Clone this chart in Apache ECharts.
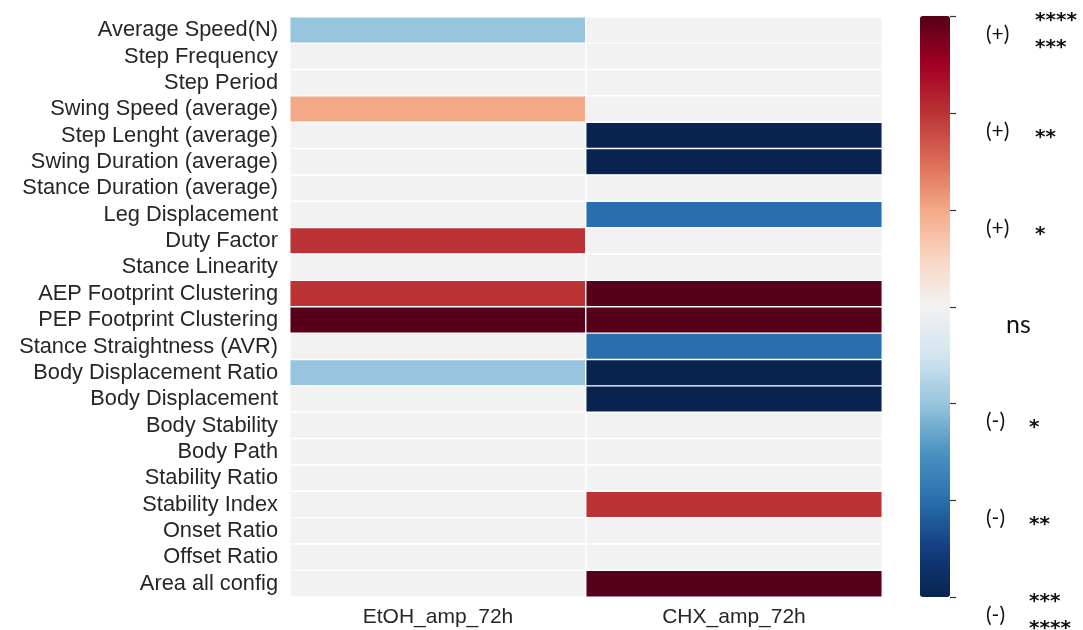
<!DOCTYPE html>
<html>
<head>
<meta charset="utf-8">
<script src="https://cdn.jsdelivr.net/npm/echarts@6/dist/echarts.min.js"></script>
<style>html,body{margin:0;padding:0;background:#fff;}#c{width:1083px;height:630px;}</style>
</head>
<body>
<div id="c"></div>
<script>
// ---- data ----
const features = [
  'Average Speed(N)', 'Step Frequency', 'Step Period', 'Swing Speed (average)',
  'Step Lenght (average)', 'Swing Duration (average)', 'Stance Duration (average)',
  'Leg Displacement', 'Duty Factor', 'Stance Linearity', 'AEP Footprint Clustering',
  'PEP Footprint Clustering', 'Stance Straightness (AVR)', 'Body Displacement Ratio',
  'Body Displacement', 'Body Stability', 'Body Path', 'Stability Ratio',
  'Stability Index', 'Onset Ratio', 'Offset Ratio', 'Area all config'
];
const conditions = ['EtOH_amp_72h', 'CHX_amp_72h'];
const etohValues = [-1, 0, 0, 1, 0, 0, 0, 0, 2, 0, 2, 3, 0, -1, 0, 0, 0, 0, 0, 0, 0, 0];
const chxValues  = [0, 0, 0, 0, -3, -3, 0, -2, 0, 0, 3, 3, -2, -3, -3, 0, 0, 0, 2, 0, 0, 3];
const scaleTicks = [3, 2, 1, 0, -1, -2, -3];
const tickSigns  = ['(+)', '(+)', '(+)', 'ns', '(-)', '(-)', '(-)'];
const tickStars  = [['****', '***'], ['**'], ['*'], [], ['*'], ['**'], ['***', '****']];
const rampColors = ['#08234f', '#123e80', '#2a6fad', '#4b93c3', '#97c5dd', '#d3e5f0', '#f2f2f2',
                    '#fad6c3', '#f3a886', '#dc6b57', '#bb3335', '#a10022', '#560019'];

const cells = [];
features.forEach((f, i) => {
  cells.push([0, i, etohValues[i]]);
  cells.push([1, i, chxValues[i]]);
});

const chart = echarts.init(document.getElementById('c'));
const labelFont = 'Liberation Sans, Arial, sans-serif';
chart.setOption({
  animation: false,
  backgroundColor: '#fff',
  grid: [
    {left: 290, top: 17, width: 592, height: 580},
    {left: 920, top: 16, width: 30, height: 581}
  ],
  xAxis: [
    {type: 'category', data: conditions, gridIndex: 0, position: 'bottom',
     axisLine: {show: false}, axisTick: {show: false}, splitLine: {show: false},
     axisLabel: {fontFamily: labelFont, fontSize: 21, color: '#262626', margin: 10}},
    {type: 'value', gridIndex: 1, show: false}
  ],
  yAxis: [
    {type: 'category', data: features, gridIndex: 0, inverse: true,
     axisLine: {show: false}, axisTick: {show: false}, splitLine: {show: false},
     axisLabel: {interval: 0, fontFamily: labelFont, fontSize: 21.8, color: '#262626', margin: 12}},
    {type: 'value', gridIndex: 1, min: -3, max: 3, interval: 1, position: 'right',
     show: false}
  ],
  visualMap: {
    type: 'continuous', min: -3, max: 3, seriesIndex: 0, calculable: false,
    left: 920, top: 16, padding: 0, itemWidth: 30, itemHeight: 581,
    text: null, showLabel: false, hoverLink: false,
    inRange: {color: rampColors}
  },
  series: [{
    type: 'heatmap', xAxisIndex: 0, yAxisIndex: 0, data: cells,
    itemStyle: {borderColor: '#ffffff', borderWidth: 1.4},
    emphasis: {disabled: true}
  }]
});

// colorbar ticks and significance labels placed at the scale ticks
const graphics = [];
const signFont = '21px Lato, "Open Sans", sans-serif';
const starFont = 'bold 20px "DejaVu Sans", sans-serif';
scaleTicks.forEach((v, k) => {
  const ty = Math.round(chart.convertToPixel({yAxisIndex: 1}, v)) + 0.5;
  graphics.push({type: 'line', shape: {x1: 950, y1: ty, x2: 956, y2: ty},
    style: {stroke: '#333', lineWidth: 1.2}});
  const sign = tickSigns[k];
  if (sign === 'ns') {
    graphics.push({type: 'text', x: 1006, y: ty + 17,
      style: {text: sign, font: '25px Lato, "Open Sans", sans-serif', fill: '#111', verticalAlign: 'middle'}});
    return;
  }
  graphics.push({type: 'text', x: 986, y: ty + 18,
    style: {text: sign, font: signFont, fill: '#111', verticalAlign: 'middle'}});
  const stars = tickStars[k];
  const sx = sign === '(+)' ? 1035 : 1029;
  if (stars.length === 1) {
    graphics.push({type: 'text', x: sx, y: ty + 24,
      style: {text: stars[0], font: starFont, fill: '#111', verticalAlign: 'middle'}});
  } else {
    graphics.push({type: 'text', x: sx, y: ty + 4,
      style: {text: stars[0], font: starFont, fill: '#111', verticalAlign: 'middle'}});
    graphics.push({type: 'text', x: sx, y: ty + 31,
      style: {text: stars[1], font: starFont, fill: '#111', verticalAlign: 'middle'}});
  }
});
chart.setOption({graphic: graphics});
</script>
</body>
</html>
